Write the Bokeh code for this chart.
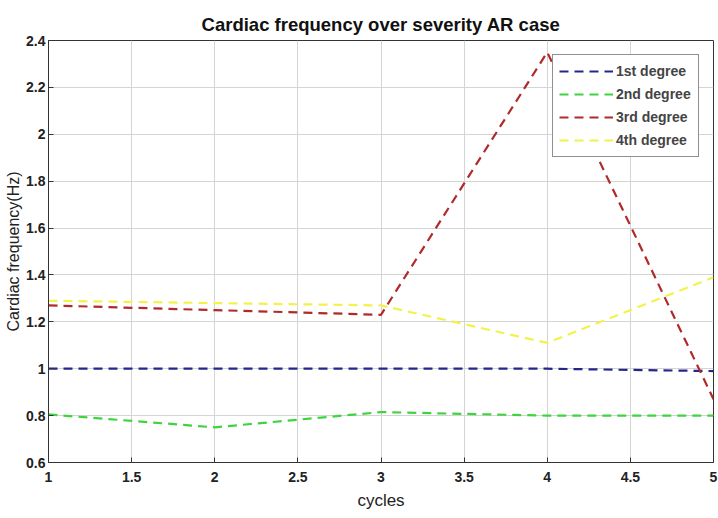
from bokeh.plotting import figure
from bokeh.models import FixedTicker, CustomJSTickFormatter, Range1d, Legend, LegendItem
from bokeh.embed import file_html
from bokeh.resources import INLINE

cycles = [1, 2, 3, 4, 5]
deg1 = [1.0, 1.0, 1.0, 1.0, 0.99]
deg2 = [0.805, 0.75, 0.815, 0.80, 0.80]
deg3 = [1.27, 1.25, 1.23, 2.35, 0.87]
deg4 = [1.29, 1.28, 1.27, 1.11, 1.39]
series_names = ["1st degree", "2nd degree", "3rd degree", "4th degree"]
x_ticks = [1, 1.5, 2, 2.5, 3, 3.5, 4, 4.5, 5]
y_ticks = [0.6, 0.8, 1, 1.2, 1.4, 1.6, 1.8, 2, 2.2, 2.4]

FONT = "Liberation Sans"

p = figure(frame_width=665, frame_height=422, output_backend="svg", toolbar_location=None,
           x_range=Range1d(1, 5), y_range=Range1d(0.6, 2.4),
           min_border_left=48, min_border_right=5, min_border_top=40, min_border_bottom=56,
           title="Cardiac frequency over severity AR case")
p.title.align = "center"
p.title.offset = 12
p.title.text_font = FONT
p.title.text_font_size = "18.5px"
p.title.text_font_style = "bold"
p.title.text_color = "#111111"
p.title.standoff = 12

fmt = CustomJSTickFormatter(code="return tick.toString();")
p.xaxis.ticker = FixedTicker(ticks=x_ticks)
p.yaxis.ticker = FixedTicker(ticks=y_ticks)
p.xaxis.formatter = fmt
p.yaxis.formatter = fmt
p.xaxis.axis_label = "cycles"
p.yaxis.axis_label = "Cardiac frequency(Hz)"
for ax in (p.xaxis[0], p.yaxis[0]):
    ax.major_tick_in = 5
    ax.major_tick_out = 0
    ax.minor_tick_in = 0
    ax.minor_tick_out = 0
    ax.major_label_text_font = FONT
    ax.major_label_text_font_size = "14px"
    ax.major_label_text_font_style = "bold"
    ax.major_label_text_color = "#222222"
    ax.axis_label_text_font = FONT
    ax.axis_label_text_font_size = "16px"
    ax.axis_label_text_font_style = "normal"
    ax.axis_label_text_color = "#222222"
    ax.axis_line_color = "#333333"
    ax.major_tick_line_color = "#333333"
p.xaxis.axis_label_text_font_size = "17px"
p.xaxis.major_label_standoff = 9
p.yaxis.major_label_standoff = 3
p.xaxis.axis_label_standoff = 6
p.yaxis.axis_label_standoff = 1

p.outline_line_color = "#333333"
p.outline_line_width = 1
p.xgrid.ticker = FixedTicker(ticks=x_ticks)
p.ygrid.ticker = FixedTicker(ticks=y_ticks)
p.grid.grid_line_color = "#d4d4d4"
p.grid.grid_line_width = 1

colors = ["#26268a", "#3fd43f", "#b02a2a", "#f2f24a"]
renderers = []
for ys, c in zip([deg1, deg2, deg3, deg4], colors):
    r = p.line(cycles, ys, line_color=c, line_width=2.2, line_dash="9 6")
    renderers.append(r)

legend = Legend(items=[LegendItem(label=n, renderers=[r]) for n, r in zip(series_names, renderers)],
                location="top_right")
legend.border_line_color = "#222222"
legend.border_line_width = 1.5
legend.margin = 14
legend.padding = 6
legend.spacing = 3
legend.glyph_width = 54
legend.glyph_height = 20
legend.label_standoff = 3
legend.label_text_font = FONT
legend.label_text_font_size = "14px"
legend.label_text_font_style = "bold"
legend.label_height = 20
legend.label_width = 76
legend.background_fill_alpha = 1.0
p.add_layout(legend)

open("out.html", "w").write(file_html(p, INLINE))
